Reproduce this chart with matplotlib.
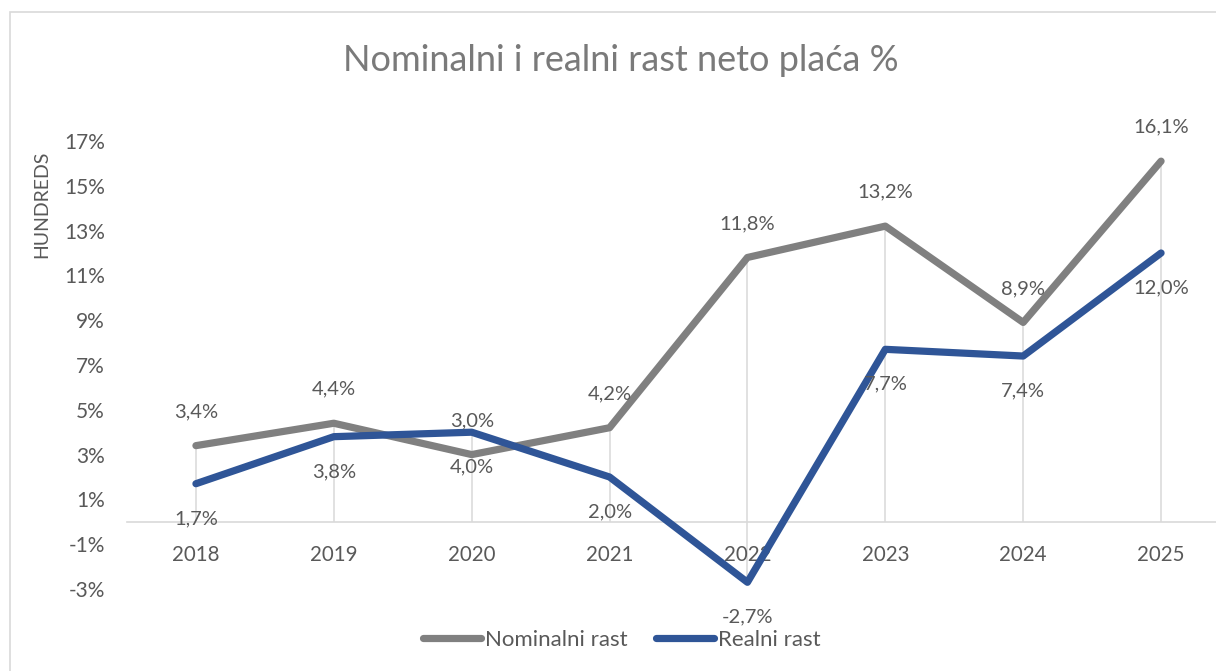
import matplotlib
matplotlib.use("Agg")
import matplotlib.pyplot as plt
from matplotlib.patches import Rectangle
import numpy as np

years = ["2018", "2019", "2020", "2021", "2022", "2023", "2024", "2025"]
nominal = [3.4, 4.4, 3.0, 4.2, 11.8, 13.2, 8.9, 16.1]
real = [1.7, 3.8, 4.0, 2.0, -2.7, 7.7, 7.4, 12.0]
y_ticks = [-3, -1, 1, 3, 5, 7, 9, 11, 13, 15, 17]

title = "Nominalni i realni rast neto plaća %"
series_names = ["Nominalni rast", "Realni rast"]

GRAY = "#808080"
BLUE = "#2F5597"
TXT = "#595959"
GRID = "#D9D9D9"

plt.rcParams['font.family'] = ['Lato', 'DejaVu Sans']

fig = plt.figure(figsize=(12.16, 6.71), dpi=100)
W, H = 1216, 671

ax = fig.add_axes([127 / W, 1 - 589 / H, (1230 - 127) / W, (589 - 141) / H])
x = np.arange(len(years))

# drop lines
tops = np.maximum(nominal, real)
bots = np.minimum(np.minimum(nominal, real), 0)
ax.vlines(x, bots, tops, color=GRID, lw=1.1, zorder=1)

ln1, = ax.plot(x, nominal, color=GRAY, lw=5.2, solid_capstyle='round',
               solid_joinstyle='round', zorder=3, label=series_names[0])
ln2, = ax.plot(x, real, color=BLUE, lw=5.2, solid_capstyle='round',
               solid_joinstyle='round', zorder=4, label=series_names[1])

def fmt(v):
    return f"{v:.1f}".replace(".", ",") + "%"

for xi, v in zip(x, nominal):
    ax.annotate(fmt(v), (xi, v), xytext=(0, 24.5), textcoords='offset points',
                ha='center', va='center', fontsize=14.5, color=TXT, zorder=5)
for xi, v in zip(x, real):
    ax.annotate(fmt(v), (xi, v), xytext=(0, -25), textcoords='offset points',
                ha='center', va='center', fontsize=14.5, color=TXT, zorder=5)

ax.set_xlim(-0.5, len(years) - 0.5)
ax.set_ylim(-3, 17)
ax.set_yticks(y_ticks)
ax.set_yticklabels([f"{t}%" for t in y_ticks])
ax.set_xticks(x)
ax.set_xticklabels(years)

for s in ['top', 'right', 'left']:
    ax.spines[s].set_visible(False)
ax.spines['bottom'].set_position(('data', 0))
ax.spines['bottom'].set_color(GRID)
ax.spines['bottom'].set_linewidth(1.2)
ax.spines['bottom'].set_zorder(0.5)
ax.tick_params(axis='x', length=0, pad=16.5, labelsize=14.8, labelcolor=TXT)
ax.tick_params(axis='y', length=0, pad=16, labelsize=15, labelcolor=TXT)
ax.set_facecolor('none')

fig.text(621 / W, 1 - 71 / H, title, ha='center', va='baseline',
         fontsize=26, color="#7A7A7A")
fig.text(42 / W, 1 - 204 / H, "HUNDREDS", rotation=90, ha='center',
         va='center', fontsize=14, color=TXT)

leg = fig.legend(handles=[ln1, ln2], loc='center', bbox_to_anchor=(622 / W, 1 - 640 / H),
                 ncol=2, frameon=False, fontsize=16, handlelength=2.6,
                 handletextpad=0.2, columnspacing=1.25, labelcolor=TXT)

fig.patches.append(Rectangle((10 / W, -0.2), 1.5, 1.2 - 12 / H, transform=fig.transFigure,
                             fill=False, edgecolor=GRID, lw=1.2))

fig.savefig("out.png", dpi=100)
